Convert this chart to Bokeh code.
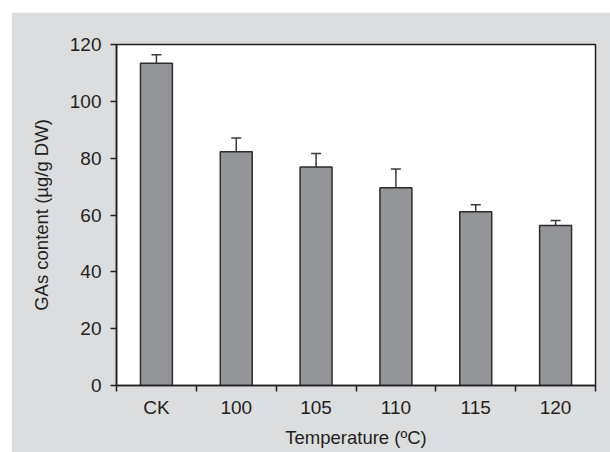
from bokeh.plotting import figure
from bokeh.models import Range1d, FixedTicker, Whisker, TeeHead, ColumnDataSource
from bokeh.embed import file_html
from bokeh.resources import INLINE

categories = ["CK", "100", "105", "110", "115", "120"]
values = [113.4, 82.3, 76.9, 69.6, 61.1, 56.3]
errors = [3.0, 4.8, 4.7, 6.6, 2.5, 1.8]
y_ticks = [0, 20, 40, 60, 80, 100, 120]

FONT = "Liberation Sans"
TXT = "#231f20"
GRAY_BG = "#dcdddf"

centers = [i + 0.5 for i in range(len(categories))]
bounds = list(range(len(categories) + 1))
src = ColumnDataSource(dict(x=centers, top=values,
                            upper=[v + e for v, e in zip(values, errors)]))

p = figure(width=599, height=440,
           x_range=Range1d(0, len(categories)), y_range=Range1d(0, 120),
           output_backend="svg", toolbar_location=None,
           min_border_left=105, min_border_right=15,
           min_border_top=32, min_border_bottom=67,
           background_fill_color="white", border_fill_color=GRAY_BG)
p.margin = (12, 0, 0, 11)
p.xgrid.visible = False
p.ygrid.visible = False
p.outline_line_color = TXT
p.outline_line_width = 1.5
p.outline_line_alpha = 1.0

p.vbar(x="x", top="top", width=0.4, bottom=0, source=src,
       fill_color="#939598", line_color="#2b2b2b", line_width=1.5)

w = Whisker(base="x", lower="top", upper="upper", source=src,
            line_color="#3a3a3a", line_width=1.5,
            lower_head=None,
            upper_head=TeeHead(size=10, line_color="#3a3a3a", line_width=1.5))
p.add_layout(w)

xa = p.xaxis[0]
xa.ticker = FixedTicker(ticks=centers, minor_ticks=bounds)
xa.major_label_overrides = {c: lab for c, lab in zip(centers, categories)}
xa.major_tick_out = 0
xa.major_tick_in = 0
xa.minor_tick_out = 6
xa.minor_tick_in = 0
xa.minor_tick_line_color = TXT
xa.minor_tick_line_width = 1.5
xa.major_label_standoff = 5

ya = p.yaxis[0]
ya.ticker = FixedTicker(ticks=y_ticks, minor_ticks=[])
ya.major_tick_out = 6
ya.major_tick_in = 0
ya.minor_tick_line_color = None
ya.major_label_standoff = 9

for ax in (xa, ya):
    ax.axis_line_color = TXT
    ax.axis_line_width = 1.5
    ax.major_tick_line_color = TXT
    ax.major_tick_line_width = 1.5
    ax.major_label_text_font = FONT
    ax.major_label_text_font_size = "19px"
    ax.major_label_text_color = TXT
    ax.axis_label_text_font = FONT
    ax.axis_label_text_font_size = "18.5px"
    ax.axis_label_text_font_style = "normal"
    ax.axis_label_text_color = TXT

xa.axis_label = "Temperature (ºC)"
xa.axis_label_standoff = 6
ya.axis_label = "GAs content (µg/g DW)"
ya.axis_label_standoff = 15

open("out.html", "w").write(file_html(p, INLINE))
